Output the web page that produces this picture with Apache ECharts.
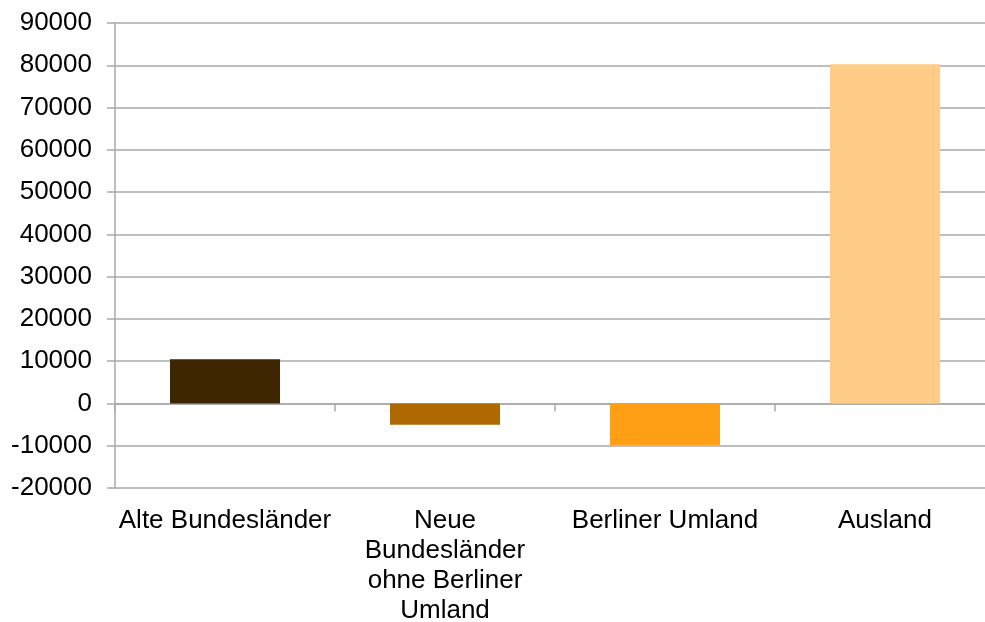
<!DOCTYPE html>
<html>
<head>
<meta charset="utf-8">
<script src="https://cdn.jsdelivr.net/npm/echarts@6/dist/echarts.min.js"></script>
<style>html,body{margin:0;padding:0;background:#fff;}#c{width:985px;height:622px;}</style>
</head>
<body>
<div id="c"></div>
<script>
const categories = ['Alte Bundesländer', 'Neue\nBundesländer\nohne Berliner\nUmland', 'Berliner Umland', 'Ausland'];
const values = [10450, -5050, -9850, 80250];
const barColors = ['#3E2700', '#AE6A00', '#FF9F15', '#FFCC87'];
const yMin = -20000, yMax = 90000, yStep = 10000;

const chart = echarts.init(document.getElementById('c'));
const font = 'Liberation Sans, Arial, Helvetica, sans-serif';
const gridColor = '#a9a9a9';
chart.setOption({
  animation: false,
  backgroundColor: '#ffffff',
  grid: { left: 115, width: 880, top: 23, bottom: 134, containLabel: false, outerBoundsMode: 'none' },
  xAxis: [
    {
      type: 'category', data: categories, boundaryGap: true,
      axisLine: { onZero: true, lineStyle: { color: gridColor, width: 1.5 } },
      axisTick: { show: true, length: 8, alignWithLabel: false, lineStyle: { color: gridColor, width: 1.5 } },
      axisLabel: { show: false }
    },
    {
      type: 'category', data: categories, position: 'bottom', boundaryGap: true,
      axisLine: { show: false, onZero: false }, axisTick: { show: false },
      axisLabel: { show: true, interval: 0, color: '#000', fontFamily: font, fontSize: 26, lineHeight: 30, margin: 18, align: 'center' }
    }
  ],
  yAxis: {
    type: 'value', min: yMin, max: yMax, interval: yStep,
    axisLine: { show: true, lineStyle: { color: gridColor, width: 1.5 } },
    axisTick: { show: true, length: 8, lineStyle: { color: gridColor, width: 1.5 } },
    splitLine: { show: true, lineStyle: { color: gridColor, width: 1.5 } },
    axisLabel: { color: '#000', fontFamily: font, fontSize: 26, margin: 23, formatter: v => String(v) }
  },
  series: [{
    type: 'bar', xAxisIndex: 0, barWidth: '50%',
    data: values.map((v, i) => ({ value: v, itemStyle: { color: barColors[i] } }))
  }]
});
</script>
</body>
</html>
